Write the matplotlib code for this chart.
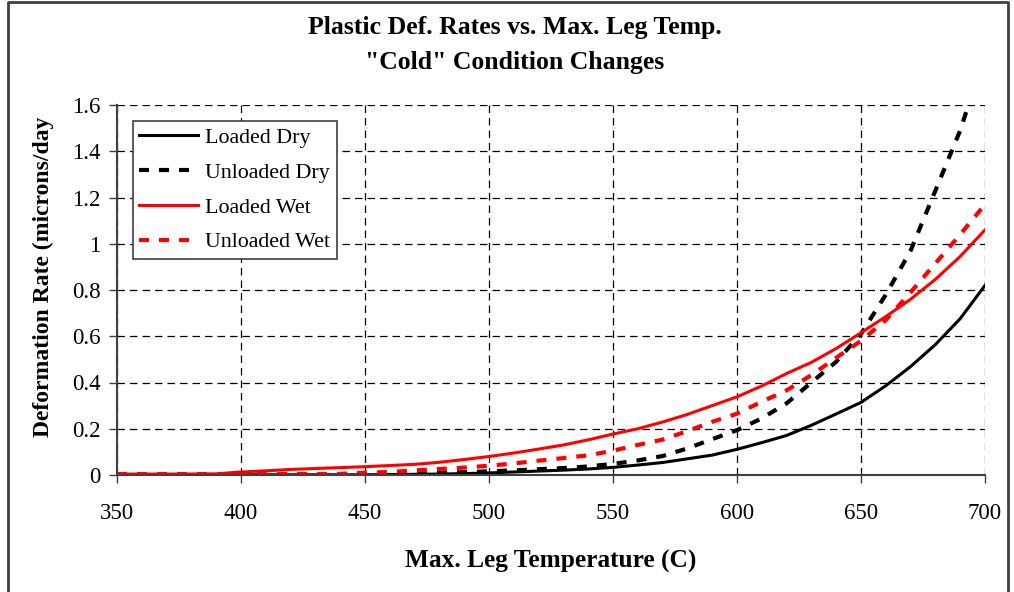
import matplotlib
matplotlib.use("Agg")
from matplotlib import pyplot as plt
from matplotlib.lines import Line2D

# values (every 10 C)
temps = list(range(350, 701, 10))

loaded_dry = [0.001, 0.001, 0.001, 0.001, 0.001, 0.001, 0.001, 0.001, 0.001, 0.001,
              0.001, 0.002, 0.003, 0.004, 0.006, 0.009, 0.013, 0.017, 0.021, 0.026,
              0.033, 0.043, 0.054, 0.070, 0.086, 0.111, 0.140, 0.171, 0.215, 0.264,
              0.314, 0.386, 0.469, 0.564, 0.676, 0.820]

unloaded_dry = [0.0005, 0.0005, 0.0005, 0.0005, 0.0005, 0.0005, 0.0005, 0.0005, 0.0005, 0.0005,
                0.002, 0.004, 0.006, 0.009, 0.012, 0.016, 0.020, 0.025, 0.030, 0.037,
                0.048, 0.063, 0.082, 0.115, 0.155, 0.194, 0.245, 0.310, 0.400, 0.490,
                0.610, 0.780, 0.970, 1.230, 1.490, 1.820]

loaded_wet = [0.004, 0.004, 0.004, 0.004, 0.005, 0.013, 0.018, 0.024, 0.028, 0.032,
              0.036, 0.041, 0.046, 0.055, 0.067, 0.080, 0.095, 0.112, 0.130, 0.152,
              0.177, 0.200, 0.229, 0.262, 0.300, 0.338, 0.385, 0.439, 0.487, 0.547,
              0.615, 0.685, 0.760, 0.846, 0.945, 1.060]

unloaded_wet = [0.004, 0.004, 0.004, 0.004, 0.004, 0.004, 0.004, 0.004, 0.004, 0.005,
                0.010, 0.013, 0.020, 0.026, 0.032, 0.040, 0.050, 0.062, 0.073, 0.085,
                0.105, 0.130, 0.153, 0.190, 0.230, 0.265, 0.317, 0.366, 0.432, 0.507,
                0.580, 0.670, 0.790, 0.915, 1.040, 1.170]

x_ticks = [350, 400, 450, 500, 550, 600, 650, 700]
y_ticks = [0, 0.2, 0.4, 0.6, 0.8, 1.0, 1.2, 1.4, 1.6]
y_tick_labels = ["0", "0.2", "0.4", "0.6", "0.8", "1", "1.2", "1.4", "1.6"]

plt.rcParams['font.family'] = ['Liberation Serif', 'DejaVu Serif']

W, H = 1014, 592
fig = plt.figure(figsize=(W / 100, H / 100), dpi=100)
ax = fig.add_axes([117 / W, 1 - 475 / H, (985 - 117) / W, (475 - 105) / H])

dots = (0, (2.4, 2.4))
ax.plot(temps, loaded_dry, color='black', lw=2.2, label='Loaded Dry')
ax.plot(temps, unloaded_dry, color='black', lw=3, linestyle=dots, label='Unloaded Dry')
ax.plot(temps, loaded_wet, color='red', lw=2.2, label='Loaded Wet')
ax.plot(temps, unloaded_wet, color='red', lw=3, linestyle=dots, label='Unloaded Wet')

ax.set_xlim(350, 700)
ax.set_ylim(0, 1.6)
ax.set_xticks(x_ticks)
ax.set_yticks(y_ticks)
ax.set_yticklabels(y_tick_labels)
ax.tick_params(labelsize=16.5, direction='out', length=6, width=1, color='#404040')
ax.tick_params(axis='x', pad=14)
ax.tick_params(axis='y', pad=6)
ax.grid(True, color='black', linestyle=(0, (6, 4)), lw=0.9)
ax.set_axisbelow(True)

for side in ['top', 'right']:
    ax.spines[side].set_visible(False)
for side in ['left', 'bottom']:
    ax.spines[side].set_color('#404040')
    ax.spines[side].set_linewidth(1.5)

fig.text(551 / W, 1 - 568 / H, "Max. Leg Temperature (C)", fontsize=18.3, fontweight='bold',
         ha='center', va='baseline')
fig.text(43 / W, 1 - 277 / H, "Deformation Rate (microns/day", rotation=90,
         fontsize=17, fontweight='bold', ha='center', va='center')

fig.text(515 / W, 1 - 34 / H, "Plastic Def. Rates vs. Max. Leg Temp.",
         fontsize=18.5, fontweight='bold', ha='center', va='baseline')
fig.text(515 / W, 1 - 69 / H, "\"Cold\" Condition Changes",
         fontsize=18.5, fontweight='bold', ha='center', va='baseline')

leg = ax.legend(loc='upper left', bbox_to_anchor=(0.018, 0.957), fontsize=15.8, handlelength=2.7,
                labelspacing=0.66, borderpad=0.3, handletextpad=0.3, fancybox=False,
                framealpha=1, borderaxespad=0)
leg.get_frame().set_edgecolor('#404040')
leg.get_frame().set_linewidth(1.2)

# outer chart border (left, top, right)
border = Line2D([8 / W, 8 / W, 1008 / W, 1008 / W],
                [0, 1 - 2 / H, 1 - 2 / H, 0], transform=fig.transFigure,
                color='#404040', lw=2)
fig.lines.append(border)

plt.savefig("out.png", dpi=100)
